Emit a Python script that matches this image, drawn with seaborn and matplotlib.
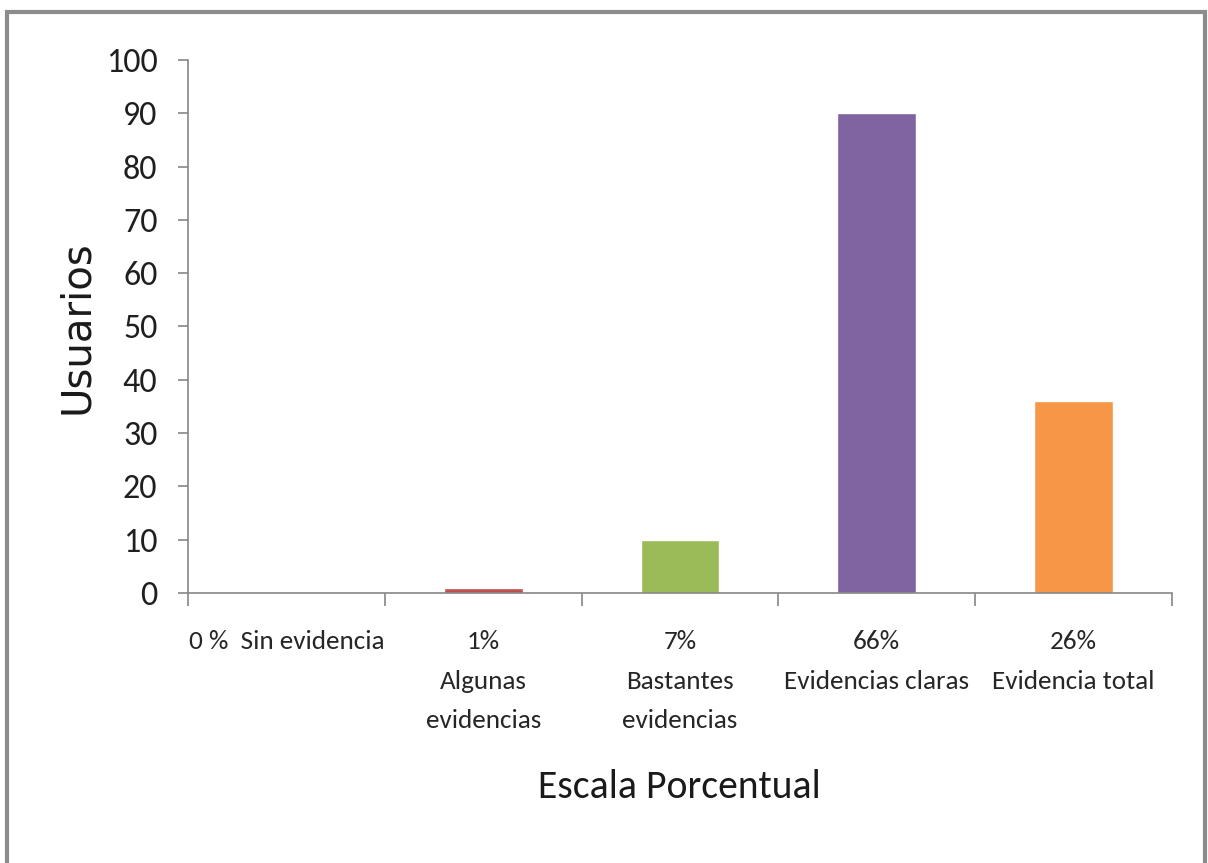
import matplotlib
matplotlib.use("Agg")
import matplotlib.pyplot as plt
import seaborn as sns
from matplotlib.patches import Rectangle

# Chart data
categories = ["0 %  Sin evidencia", "1%\nAlgunas\nevidencias", "7%\nBastantes\nevidencias",
              "66%\nEvidencias claras", "26%\nEvidencia total"]
usuarios = [0, 1, 10, 90, 36]
y_ticks = [0, 10, 20, 30, 40, 50, 60, 70, 80, 90, 100]
bar_colors = ["#4f81bd", "#c0504d", "#9bbb59", "#8064a2", "#f79646"]

sns.set_style("white")
plt.rcParams['font.family'] = ['Carlito', 'DejaVu Sans']
plt.rcParams['text.color'] = '#262626'

fig = plt.figure(figsize=(12.08, 8.63), dpi=100)
ax = fig.add_axes([0.1556, 0.3129, 0.8146, 0.6176])

sns.barplot(x=categories, y=usuarios, hue=categories, palette=bar_colors,
            width=0.4, legend=False, saturation=1, ax=ax)

ax.set_ylim(0, 100)
ax.set_xlim(-0.5, 4.5)
ax.set_yticks(y_ticks)
ax.tick_params(axis='y', left=True, labelsize=24.5, length=7, width=1.2,
               color='#868686', labelcolor='#1f1f1f', pad=15)
ax.tick_params(axis='x', which='major', labelsize=19.5, length=0, pad=27, labelcolor='#262626')
ax.set_xticks([i - 0.5 for i in range(6)], minor=True)
ax.tick_params(axis='x', which='minor', bottom=True, length=9, width=1.2,
               color='#868686', direction='out')
for lab in ax.get_xticklabels():
    lab.set_linespacing(1.85)

ax.set_ylabel("Usuarios", fontsize=29, family=['DejaVu Sans'], color='#1a1a1a')
ax.yaxis.set_label_coords(-0.092, 0.499)
ax.set_xlabel("Escala Porcentual", fontsize=28.5, color='#1a1a1a')
ax.xaxis.set_label_coords(0.4995, -0.331)

sns.despine(ax=ax)
for side in ['left', 'bottom']:
    ax.spines[side].set_color('#868686')
    ax.spines[side].set_linewidth(1.2)

# Outer chart frame
fig.patches.append(Rectangle((0.0058, -0.02), 0.9917, 1.006, transform=fig.transFigure,
                             fill=False, edgecolor='#8c8c8c', linewidth=3))

fig.savefig("out.png", dpi=100)
